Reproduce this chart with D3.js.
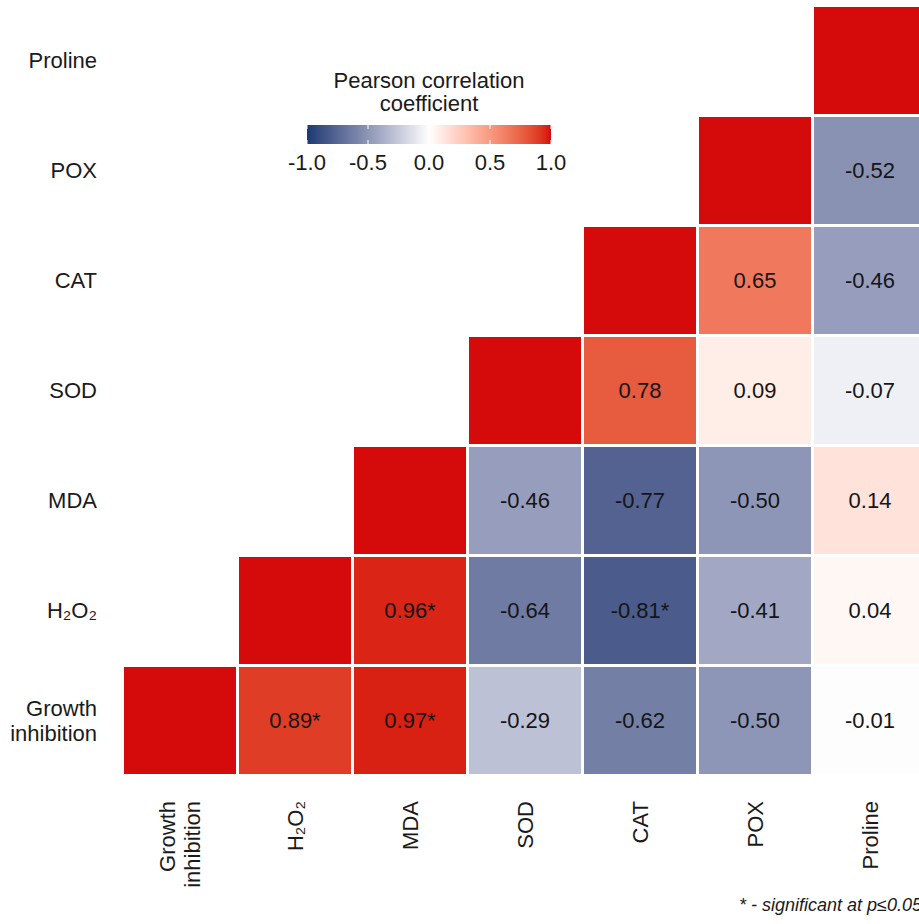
<!DOCTYPE html>
<html>
<head>
<meta charset="utf-8">
<script src="https://cdn.jsdelivr.net/npm/d3@7"></script>
<style>
  html, body { margin: 0; padding: 0; background: #ffffff; overflow: hidden; }
  svg { display: block; font-family: "Liberation Sans", Arial, sans-serif; }
</style>
</head>
<body>
<svg id="chart" width="919" height="924"></svg>
<script>
// ---- data ----
const variables = ["Growth inhibition", "H₂O₂", "MDA", "SOD", "CAT", "POX", "Proline"];
// number of off-diagonal pairs per row variable (rows listed bottom to top)
const rowCounts = [6, 5, 4, 3, 2, 1];
const pairCols = ["H₂O₂","MDA","SOD","CAT","POX","Proline",
                  "MDA","SOD","CAT","POX","Proline",
                  "SOD","CAT","POX","Proline",
                  "CAT","POX","Proline",
                  "POX","Proline",
                  "Proline"];
const pairValues = [0.89, 0.97, -0.29, -0.62, -0.50, -0.01,
                    0.96, -0.64, -0.81, -0.41, 0.04,
                    -0.46, -0.77, -0.50, 0.14,
                    0.78, 0.09, -0.07,
                    0.65, -0.46,
                    -0.52];
const pairSig = [true, true, false, false, false, false,
                 true, false, true, false, false,
                 false, false, false, false,
                 false, false, false,
                 false, false,
                 false];
const legendTicks = [-1.0, -0.5, 0.0, 0.5, 1.0];
const legendTitle = ["Pearson correlation", "coefficient"];
const footnote = "* - significant at p≤0.05";

const pairRows = [];
rowCounts.forEach((n, i) => { for (let k = 0; k < n; k++) pairRows.push(variables[i]); });

const cells = [];
variables.forEach(v => cells.push({row: v, col: v, r: 1, diag: true, sig: false}));
pairCols.forEach((c, i) => cells.push({row: pairRows[i], col: c, r: pairValues[i], diag: false, sig: pairSig[i]}));

// ---- scales ----
const svg = d3.select("#chart");
const x = d3.scaleBand().domain(variables).range([122.5, 122.5 + 115 * 7]).padding(0);
const y = d3.scaleBand().domain(variables.slice().reverse()).range([5.5, 5.5 + 110 * 7]).padding(0);

const lowCol = "#1A3A72", midCol = "#FFFFFF", highCol = "#D50B0B";
const color = d3.scaleLinear().domain([-1, 0, 1]).range([lowCol, midCol, highCol])
  .interpolate(d3.interpolateLab).clamp(true);

// ---- tiles ----
svg.append("g").selectAll("rect").data(cells).join("rect")
  .attr("x", d => x(d.col))
  .attr("y", d => y(d.row))
  .attr("width", x.bandwidth())
  .attr("height", y.bandwidth())
  .attr("fill", d => color(d.r))
  .attr("stroke", "#ffffff")
  .attr("stroke-width", 3);

svg.append("g").selectAll("text").data(cells.filter(d => !d.diag)).join("text")
  .attr("x", d => x(d.col) + x.bandwidth() / 2)
  .attr("y", d => y(d.row) + y.bandwidth() / 2)
  .attr("dy", "0.35em")
  .attr("text-anchor", "middle")
  .attr("font-size", 22)
  .attr("fill", "#151515")
  .text(d => d3.format(".2f")(d.r).replace("−", "-") + (d.sig ? "*" : ""));

// ---- y axis labels ----
const yLab = svg.append("g");
variables.forEach(v => {
  const parts = v === "Growth inhibition" ? ["Growth", "inhibition"] : [v];
  const cy = y(v) + y.bandwidth() / 2;
  const t = yLab.append("text")
    .attr("text-anchor", "end")
    .attr("font-size", 22)
    .attr("fill", "#1a1a1a");
  parts.forEach((p, i) => {
    t.append("tspan")
      .attr("x", 97)
      .attr("y", cy + (i - (parts.length - 1) / 2) * 25)
      .attr("dy", "0.35em")
      .text(p);
  });
});

// ---- x axis labels (rotated) ----
const xLab = svg.append("g");
variables.forEach(v => {
  const parts = v === "Growth inhibition" ? ["Growth", "inhibition"] : [v];
  const cx = x(v) + x.bandwidth() / 2;
  const g = xLab.append("g").attr("transform", `translate(${cx},801) rotate(-90)`);
  const t = g.append("text")
    .attr("text-anchor", "end")
    .attr("font-size", 22)
    .attr("fill", "#1a1a1a");
  parts.forEach((p, i) => {
    t.append("tspan")
      .attr("x", 0)
      .attr("y", (i - (parts.length - 1) / 2) * 25)
      .attr("dy", "0.35em")
      .text(p);
  });
});

// ---- legend ----
const lg = svg.append("g");
const lx = d3.scaleLinear().domain([-1, 1]).range([307, 551]);
const grad = svg.append("defs").append("linearGradient").attr("id", "lgGrad")
  .attr("x1", "0%").attr("x2", "100%").attr("y1", "0%").attr("y2", "0%");
d3.range(0, 1.0001, 0.02).forEach(t => {
  grad.append("stop").attr("offset", (t * 100) + "%").attr("stop-color", color(-1 + 2 * t));
});
lg.append("rect")
  .attr("x", lx(-1)).attr("y", 125)
  .attr("width", lx(1) - lx(-1)).attr("height", 19)
  .attr("fill", "url(#lgGrad)");
legendTicks.forEach(t => {
  lg.append("line").attr("x1", lx(t)).attr("x2", lx(t)).attr("y1", 125).attr("y2", 129)
    .attr("stroke", "#ffffff").attr("stroke-width", 1);
  lg.append("line").attr("x1", lx(t)).attr("x2", lx(t)).attr("y1", 140).attr("y2", 144)
    .attr("stroke", "#ffffff").attr("stroke-width", 1);
});
lg.selectAll("text.tick").data(legendTicks).join("text")
  .attr("class", "tick")
  .attr("x", d => lx(d))
  .attr("y", 170)
  .attr("text-anchor", "middle")
  .attr("font-size", 22)
  .attr("fill", "#1a1a1a")
  .text(d => d3.format(".1f")(d).replace("−", "-"));
lg.selectAll("text.title").data(legendTitle).join("text")
  .attr("class", "title")
  .attr("x", 429)
  .attr("y", (d, i) => 88 + i * 23)
  .attr("text-anchor", "middle")
  .attr("font-size", 22)
  .attr("fill", "#1a1a1a")
  .text(d => d);

// ---- footnote (cut at the right edge, as in the reference) ----
svg.append("text")
  .attr("x", 739).attr("y", 911)
  .attr("font-size", 18)
  .attr("font-style", "italic")
  .attr("fill", "#1a1a1a")
  .text(footnote);
</script>
</body>
</html>
